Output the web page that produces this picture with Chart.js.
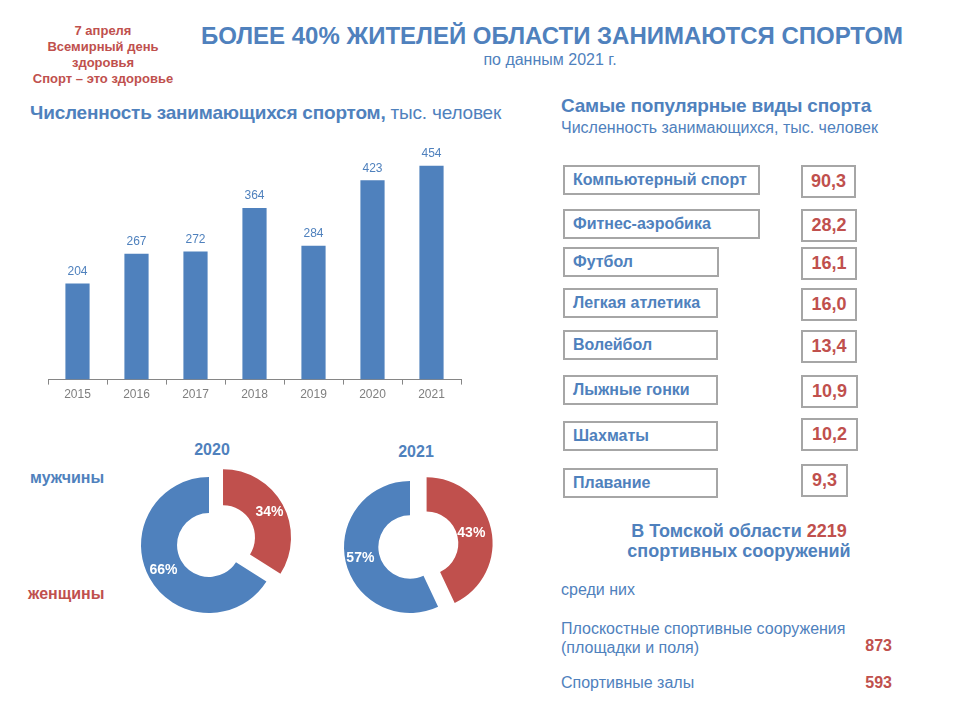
<!DOCTYPE html>
<html lang="ru">
<head>
<meta charset="utf-8">
<script src="https://cdn.jsdelivr.net/npm/chart.js@4.4.1/dist/chart.umd.min.js"></script>
<style>
  body { margin: 0; background: #fff; font-family: "Liberation Sans", Arial, sans-serif; }
  #page { position: relative; width: 960px; height: 720px; overflow: hidden; }
  .t { position: absolute; white-space: nowrap; line-height: 1; }
  .blue { color: #4f81bd; }
  .red { color: #c0504d; }
  .b { font-weight: bold; }
  .box { position: absolute; box-sizing: border-box; border: 2px solid #a6a6a6; display: flex; align-items: center; }
  .lbl { padding-left: 8px; font-size: 16px; font-weight: bold; color: #4f81bd; }
  .val { justify-content: center; font-size: 18px; font-weight: bold; color: #c0504d; }
  canvas { position: absolute; }
</style>
</head>
<body>
<div id="page">
  <div class="t red b" style="left:0;width:206px;top:23px;font-size:13px;line-height:16px;text-align:center;">7 апреля<br>Всемирный день<br>здоровья<br>Спорт – это здоровье</div>
  <div class="t blue b" style="left:152px;width:800px;top:24px;font-size:24px;text-align:center;">БОЛЕЕ 40% ЖИТЕЛЕЙ ОБЛАСТИ ЗАНИМАЮТСЯ СПОРТОМ</div>
  <div class="t blue" style="left:350px;width:400px;top:52px;font-size:16px;text-align:center;">по данным 2021 г.</div>

  <div class="t blue" style="left:30px;top:103px;font-size:19px;letter-spacing:-0.2px;"><b>Численность занимающихся спортом,</b> тыс. человек</div>
  <canvas id="bars" width="460" height="275" style="left:20px;top:130px;"></canvas>

  <div class="t blue b" style="left:30px;top:470px;font-size:16px;">мужчины</div>
  <div class="t red b" style="left:28px;top:586px;font-size:16px;">женщины</div>
  <div class="t blue b" style="left:172px;width:80px;top:442px;font-size:16px;text-align:center;">2020</div>
  <div class="t blue b" style="left:376px;width:80px;top:444px;font-size:16px;text-align:center;">2021</div>
  <canvas id="d2020" width="220" height="220" style="left:99px;top:435px;"></canvas>
  <canvas id="d2021" width="220" height="220" style="left:300px;top:437px;"></canvas>

  <div class="t blue b" style="left:561px;top:96px;font-size:19px;letter-spacing:-0.2px;">Самые популярные виды спорта</div>
  <div class="t blue" style="left:561px;top:120px;font-size:16px;">Численность занимающихся, тыс. человек</div>
  <div id="sports"></div>

  <div class="t blue b" style="left:539px;width:400px;top:521px;font-size:18px;line-height:20px;text-align:center;">В Томской области <span class="red" id="total"></span><br>спортивных сооружений</div>
  <div class="t blue" style="left:561px;top:582px;font-size:16px;">среди них</div>
  <div class="t blue" style="left:561px;top:619px;font-size:16px;line-height:19px;">Плоскостные спортивные сооружения<br>(площадки и поля)</div>
  <div class="t red b" id="v1" style="right:68px;top:638px;font-size:16px;"></div>
  <div class="t blue" style="left:561px;top:675px;font-size:16px;">Спортивные залы</div>
  <div class="t red b" id="v2" style="right:68px;top:675px;font-size:16px;"></div>
</div>
<script>
const years = ["2015", "2016", "2017", "2018", "2019", "2020", "2021"];
const athletes = [204, 267, 272, 364, 284, 423, 454];

const genderLabels = ["женщины", "мужчины"];
const gender2020 = [34, 66];
const gender2021 = [43, 57];

const sports = ["Компьютерный спорт", "Фитнес-аэробика", "Футбол", "Легкая атлетика",
  "Волейбол", "Лыжные гонки", "Шахматы", "Плавание"];
const sportValues = ["90,3", "28,2", "16,1", "16,0", "13,4", "10,9", "10,2", "9,3"];

const facilitiesTotal = 2219;
const facilities = [873, 593];

const blue = "#4f81bd";
const red = "#c0504d";

// layout of the sport boxes (top, label width, value top shift, value width)
const boxLayout = [
  [165, 197, 0, 55], [209, 197, 0, 56], [247, 156, 0, 56], [288, 155, 0, 56],
  [330, 155, 0, 56], [375, 155, 0, 57], [421, 155, -3, 57], [468, 155, -4, 47]
];
const sportsEl = document.getElementById("sports");
sports.forEach((name, i) => {
  const [top, w, shift, vw] = boxLayout[i];
  const l = document.createElement("div");
  l.className = "box lbl";
  l.style.cssText = `left:563px;top:${top}px;width:${w}px;height:30px;`;
  l.textContent = name;
  sportsEl.appendChild(l);
  const v = document.createElement("div");
  v.className = "box val";
  v.style.cssText = `left:801px;top:${top + shift}px;width:${vw}px;height:33px;`;
  v.textContent = sportValues[i];
  sportsEl.appendChild(v);
});
document.getElementById("total").textContent = facilitiesTotal;
document.getElementById("v1").textContent = facilities[0];
document.getElementById("v2").textContent = facilities[1];

Chart.defaults.font.family = "'Liberation Sans', Arial, sans-serif";

const barLabels = {
  id: "barLabels",
  afterDatasetsDraw(chart) {
    const ctx = chart.ctx;
    ctx.save();
    ctx.font = "12px 'Liberation Sans', Arial, sans-serif";
    ctx.fillStyle = blue;
    ctx.textAlign = "center";
    ctx.textBaseline = "bottom";
    chart.getDatasetMeta(0).data.forEach((bar, i) => {
      ctx.fillText(athletes[i], bar.x, bar.y - 6);
    });
    ctx.restore();
  }
};

new Chart("bars", {
  type: "bar",
  data: {
    labels: years,
    datasets: [{
      data: athletes,
      backgroundColor: blue,
      borderWidth: 0,
      barPercentage: 0.41,
      categoryPercentage: 1,
    }],
  },
  options: {
    responsive: false,
    animation: false,
    layout: { padding: { left: 28, right: 19, top: 14, bottom: 0 } },
    plugins: { legend: { display: false }, tooltip: { enabled: false } },
    scales: {
      y: { display: false, min: 0, max: 500 },
      x: {
        grid: { offset: true, drawOnChartArea: false, drawTicks: true, tickLength: 5, color: "#868686" },
        border: { display: true, color: "#868686", width: 1 },
        ticks: { color: "#7f7f7f", font: { size: 12 }, padding: 3 },
      },
    },
  },
  plugins: [barLabels],
});

// pulls a slice out of the ring without growing it (the built-in offset also widens the arc)
const explode = {
  id: "explode",
  beforeDatasetsDraw(chart, args, opts) {
    chart.getDatasetMeta(0).data.forEach((arc, i) => {
      const d = opts.distance[i] || 0;
      if (!d || arc._exploded) return;
      const baseDraw = arc.draw;
      arc.draw = function (ctx) {
        const a = (this.startAngle + this.endAngle) / 2;
        ctx.save();
        ctx.translate(Math.cos(a) * d, Math.sin(a) * d);
        baseDraw.call(this, ctx);
        ctx.restore();
      };
      arc._exploded = true;
    });
  },
  afterDatasetsDraw(chart, args, opts) {
    const ctx = chart.ctx;
    const data = chart.data.datasets[0].data;
    ctx.save();
    ctx.font = "bold 14px 'Liberation Sans', Arial, sans-serif";
    ctx.fillStyle = "#fff";
    ctx.textAlign = "center";
    ctx.textBaseline = "middle";
    chart.getDatasetMeta(0).data.forEach((arc, i) => {
      const a = (arc.startAngle + arc.endAngle) / 2;
      const r = (arc.innerRadius + arc.outerRadius) / 2 + (opts.distance[i] || 0) + opts.labelShift[i];
      ctx.fillText(data[i] + "%", arc.x + Math.cos(a) * r, arc.y + Math.sin(a) * r);
    });
    ctx.restore();
  }
};

function ring(id, values, radius, cutout, distance, labelShift) {
  new Chart(id, {
    type: "doughnut",
    data: {
      labels: genderLabels,
      datasets: [{
        data: values,
        backgroundColor: [red, blue],
        borderWidth: 0,
      }],
    },
    options: {
      responsive: false,
      animation: false,
      radius: radius,
      cutout: cutout,
      plugins: {
        legend: { display: false },
        tooltip: { enabled: false },
        explode: { distance: distance, labelShift: labelShift },
      },
    },
    plugins: [explode],
  });
}
ring("d2020", gender2020, 68, "47%", [16, 0], [3, 2]);
ring("d2021", gender2021, 66, "48%", [17, 0], [-3, 2]);
</script>
</body>
</html>
